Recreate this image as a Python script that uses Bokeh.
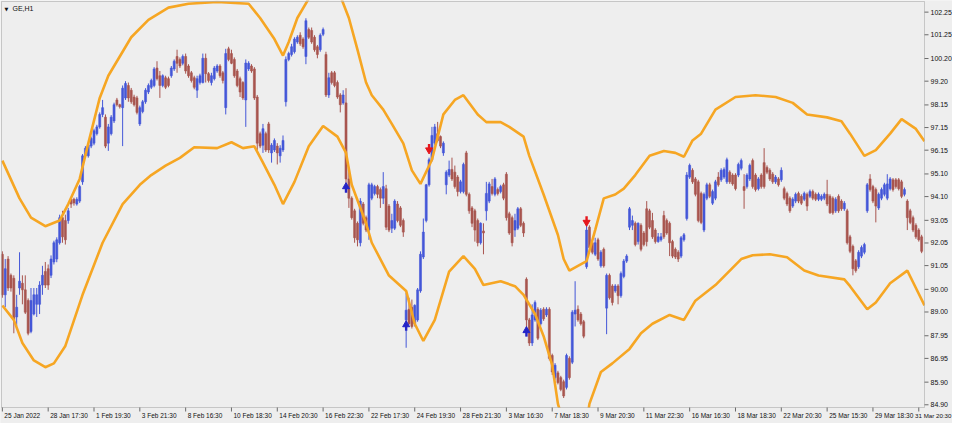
import numpy as np
from bokeh.plotting import figure
from bokeh.models import ColumnDataSource, Range1d, Label, BoxAnnotation, Grid
from bokeh.embed import file_html
from bokeh.resources import INLINE
from bokeh.core.properties import value

# ---------------- data ----------------
chart_title = "GE,H1"

price_ticks = [102.25, 101.25, 100.20, 99.20, 98.15, 97.15, 96.15, 95.10, 94.10,
               93.05, 92.05, 91.05, 90.00, 89.00, 87.95, 86.95, 85.90, 84.90]

time_tick_bars = [0, 16, 32, 48, 64, 80, 96, 112, 128, 144, 160,
                  176, 192, 208, 224, 240, 256, 272, 288, 304, 320]
time_tick_labels = ["25 Jan 2022", "28 Jan 17:30", "1 Feb 19:30", "3 Feb 21:30",
                    "8 Feb 16:30", "10 Feb 18:30", "14 Feb 20:30", "16 Feb 22:30",
                    "22 Feb 17:30", "24 Feb 19:30", "28 Feb 21:30", "3 Mar 16:30",
                    "7 Mar 18:30", "9 Mar 20:30", "11 Mar 22:30", "16 Mar 16:30",
                    "18 Mar 18:30", "22 Mar 20:30", "25 Mar 15:30", "29 Mar 18:30",
                    "31 Mar 20:30"]

opens = [
    91.55, 89.76, 91.34, 90.62, 90.49, 88.78, 90.06, 90.27, 89.98, 89.51,
    88.14, 88.91, 89.34, 89.34, 90.19, 90.79, 90.91, 90.62, 91.21, 91.34,
    92.06, 93.17, 93.04, 93.04, 93.98, 93.98, 93.77, 93.90, 94.75, 95.90,
    95.90, 96.33, 96.46, 96.88, 97.18, 97.73, 97.61, 96.46, 96.88, 97.44,
    98.37, 98.16, 98.03, 98.46, 99.01, 98.80, 98.50, 98.46, 97.31, 97.86,
    98.29, 98.72, 98.93, 99.01, 99.78, 99.44, 99.01, 99.35, 99.31, 99.44,
    99.74, 100.29, 100.16, 99.99,
    100.29, 99.87, 99.57, 99.35, 98.80, 99.14, 99.14, 100.21, 99.53, 99.14,
    99.31, 99.65, 99.87, 99.57, 98.03, 100.63, 100.42, 100.16, 99.65, 99.31,
    99.14, 98.37, 99.74, 99.87, 99.74, 98.50, 96.88, 96.37, 96.88, 97.31,
    96.03, 96.16, 96.33, 95.90, 96.16,
    98.29, 100.16, 100.38, 100.50, 100.93, 101.23, 101.06, 100.29, 101.48, 101.44,
    101.14, 100.72, 100.59, 101.27,
    100.38, 98.59, 99.57, 99.57, 99.14, 98.59, 98.24, 98.24, 94.88, 94.03,
    93.47, 92.92, 92.06, 93.77, 93.17, 92.62, 94.03,
    94.24, 94.54, 94.41, 94.03, 94.45, 93.68, 92.70, 92.70, 93.77, 93.60, 93.04,
    88.65, 89.12, 89.21, 88.48, 88.65, 89.93, 91.43, 93.04, 94.62, 95.73,
    96.46, 96.88, 96.75, 96.03,
    94.62, 95.05, 95.30, 95.18, 94.96, 94.32, 94.32, 96.03, 94.20, 93.60,
    93.47, 93.04, 92.06, 92.58, 93.47, 93.90, 94.54, 94.20, 94.41, 94.32,
    94.62, 95.09, 93.34, 93.17, 92.62, 92.70, 93.56, 92.92,
    90.45, 88.65, 87.63, 88.65, 89.12, 88.48, 89.12, 88.87, 89.12, 87.08,
    86.10, 86.31, 86.10, 85.92, 85.67, 86.95, 86.78, 88.91, 89.12, 88.91, 88.57,
    91.00, 92.75, 92.06, 91.55, 92.19, 91.04, 91.77,
    89.17, 90.62, 90.15, 89.93, 90.15, 89.72, 90.57, 91.25,
    92.75, 92.83, 92.92, 92.11, 92.83, 92.49, 93.56, 93.47, 93.04, 92.62,
    92.11, 92.19, 93.26, 93.04, 92.92, 92.11, 91.77, 91.64, 91.47, 92.19,
    93.13, 94.96, 95.26, 94.88, 94.75, 94.24, 92.62, 94.03, 94.62, 93.81,
    94.03, 94.96, 94.84, 94.96, 94.75, 95.18, 95.05, 95.05, 95.05, 95.35,
    94.54, 94.54, 94.88, 95.69, 95.05, 94.45, 95.05, 95.60, 95.39, 95.26,
    95.09, 94.75, 94.88, 94.84, 94.45, 94.24, 94.03, 93.68, 93.90, 94.24,
    94.11, 93.98, 94.20, 94.11, 94.32, 94.20, 93.98, 93.98, 94.03, 94.20,
    94.11, 94.03, 93.47, 94.11, 93.90, 93.56, 93.47, 92.32, 91.90, 91.26,
    91.00, 91.47, 91.64,
    93.47, 94.88, 94.54, 94.41, 93.60, 94.03, 94.20, 94.03, 94.45, 94.84,
    94.84, 94.84, 94.75, 94.20,
    93.90, 93.47, 93.17, 92.83, 92.62, 92.32,
]

highs = [
    91.68, 91.34, 91.47, 90.70, 90.62, 89.76, 91.64, 90.62, 90.62, 89.60,
    90.06, 90.06, 90.06, 90.36, 91.04, 91.21, 91.10, 91.50, 92.15, 92.30,
    93.30, 93.47, 93.30, 93.60, 94.03, 94.05, 94.07, 94.62, 95.98, 96.33,
    96.45, 96.75, 97.10, 97.27, 97.82, 98.37, 97.73, 97.31, 97.70, 98.25,
    98.46, 98.20, 99.01, 99.20, 99.14, 98.90, 98.60, 98.55, 98.12, 98.37,
    98.89, 99.10, 99.31, 99.82, 100.08, 99.65, 99.50, 99.44, 99.40, 99.87,
    100.16, 100.59, 100.25, 100.38,
    100.42, 99.95, 99.65, 99.44, 99.44, 99.53, 100.42, 100.42, 99.60, 99.57,
    99.87, 99.95, 99.95, 99.65, 100.63, 100.72, 100.59, 100.25, 99.74, 99.40,
    99.20, 100.16, 100.08, 99.95, 99.82, 98.59, 96.97, 97.31, 96.97, 97.40,
    96.46, 96.67, 96.46, 96.37, 96.80,
    100.29, 100.50, 100.85, 101.14, 101.23, 101.36, 101.14, 101.98, 101.57, 101.57,
    101.23, 100.80, 101.31, 101.57,
    100.50, 99.57, 99.65, 99.65, 99.23, 98.67, 98.80, 98.89, 95.18, 94.11,
    93.56, 93.00, 94.03, 93.86, 93.26, 94.71, 94.71,
    94.62, 94.62, 94.50, 95.18, 94.62, 93.77, 93.34, 93.98, 93.90, 93.68, 93.13,
    89.85, 89.63, 89.55, 89.34, 90.06, 91.68, 93.13, 94.66, 95.82, 97.18,
    97.31, 97.40, 96.80, 96.54,
    95.26, 95.69, 95.82, 95.47, 95.05, 94.84, 95.60, 96.12, 94.28, 93.68,
    93.56, 93.13, 92.96, 92.92, 94.75, 94.75, 94.88, 94.96, 94.50, 94.62,
    94.71, 95.18, 93.43, 93.26, 93.34, 93.64, 93.64, 93.00,
    90.53, 88.74, 89.34, 89.51, 89.21, 89.17, 89.21, 89.21, 89.21, 87.16,
    86.74, 86.40, 86.18, 86.01, 87.16, 87.04, 89.08, 90.36, 89.29, 89.00, 88.65,
    92.96, 92.83, 92.15, 92.28, 92.28, 91.73, 91.85,
    90.70, 90.70, 90.23, 90.23, 90.23, 90.79, 91.34, 91.55,
    93.64, 93.26, 93.00, 92.96, 92.92, 92.58, 93.90, 93.56, 93.38, 92.70,
    92.49, 92.49, 93.47, 93.13, 93.00, 92.19, 91.85, 91.73, 92.36, 92.49,
    95.18, 95.56, 95.35, 94.96, 94.84, 94.32, 94.28, 94.71, 94.71, 94.41,
    94.84, 95.18, 95.35, 95.39, 95.82, 95.26, 95.13, 95.13, 95.60, 95.78,
    95.09, 95.13, 95.56, 95.78, 95.13, 94.96, 95.13, 96.24, 95.48, 95.35,
    95.18, 95.05, 94.96, 95.39, 94.54, 94.32, 94.11, 94.07, 94.28, 94.32,
    94.20, 94.32, 94.28, 94.41, 94.41, 94.28, 94.28, 94.20, 94.28, 94.84,
    94.20, 94.11, 94.07, 94.20, 93.98, 93.90, 93.56, 92.41, 91.98, 91.34,
    91.73, 91.94, 92.06,
    94.70, 95.09, 94.62, 94.50, 94.28, 94.50, 94.71, 95.09, 94.96, 94.92,
    94.92, 94.92, 94.84, 94.50,
    93.98, 93.56, 93.26, 92.92, 92.70, 92.41,
]

lows = [
    89.63, 89.21, 89.93, 89.90, 88.06, 88.36, 89.76, 89.34, 88.91, 87.97,
    88.06, 88.85, 88.78, 88.91, 89.76, 90.06, 89.98, 90.50, 91.10, 91.20,
    91.98, 92.06, 91.98, 92.90, 93.60, 93.70, 93.70, 93.82, 94.62, 95.82,
    95.82, 96.24, 96.37, 96.80, 97.10, 97.61, 96.24, 96.12, 96.80, 97.35,
    98.08, 97.99, 96.33, 98.37, 98.29, 98.20, 98.08, 97.73, 97.22, 97.78,
    98.20, 98.63, 98.85, 98.93, 99.23, 98.46, 98.93, 98.85, 98.93, 99.35,
    99.65, 99.57, 99.78, 99.90,
    99.53, 99.35, 99.14, 98.84, 98.46, 99.05, 99.10, 99.14, 99.14, 99.01,
    99.23, 99.57, 99.35, 99.10, 97.73, 100.08, 99.95, 99.35, 98.93, 98.50,
    98.37, 97.18, 99.65, 99.57, 98.37, 96.16, 96.24, 96.03, 96.07, 96.03,
    95.60, 96.07, 95.52, 95.60, 96.07,
    98.08, 100.08, 100.29, 100.42, 100.85, 100.76, 100.63, 99.95, 101.06, 100.85,
    100.50, 100.21, 100.50, 101.19,
    98.50, 98.46, 99.05, 98.93, 98.42, 97.82, 98.16, 94.45, 93.60, 93.08,
    92.06, 91.90, 91.90, 92.83, 92.53, 92.19, 93.94,
    94.15, 94.03, 93.60, 93.77, 92.62, 92.53, 92.49, 92.62, 92.96, 92.75, 92.32,
    87.42, 88.44, 88.27, 88.36, 88.57, 89.85, 91.34, 92.96, 94.54, 95.65,
    96.37, 96.50, 96.24, 95.90,
    94.20, 94.96, 94.79, 94.45, 94.11, 94.24, 94.24, 94.11, 93.34, 92.75,
    92.11, 91.90, 91.98, 91.55, 93.04, 93.81, 94.15, 94.11, 94.15, 94.24,
    93.94, 93.04, 92.41, 91.90, 92.32, 92.62, 92.75, 92.32,
    87.93, 87.50, 87.50, 88.57, 87.76, 88.40, 88.61, 88.78, 86.86, 86.22,
    86.01, 85.80, 85.50, 85.20, 85.58, 86.01, 86.70, 88.36, 88.57, 88.40, 87.84,
    90.91, 91.77, 91.55, 91.47, 91.26, 90.96, 90.96,
    88.02, 89.55, 89.29, 89.85, 89.34, 89.63, 90.49, 91.17,
    92.62, 92.62, 91.90, 91.98, 91.68, 91.90, 91.90, 92.66, 92.23, 92.02,
    92.06, 92.11, 92.23, 92.41, 91.47, 91.38, 91.34, 91.21, 91.38, 92.11,
    93.04, 94.88, 94.66, 94.11, 92.96, 92.88, 92.53, 93.94, 94.03, 93.73,
    93.94, 94.54, 94.75, 94.88, 94.66, 94.66, 94.58, 94.37, 94.96, 95.26,
    93.56, 94.45, 94.79, 94.45, 94.32, 94.37, 94.45, 94.45, 95.09, 94.79,
    94.66, 94.66, 94.54, 94.75, 93.94, 93.68, 93.38, 93.60, 93.81, 93.81,
    93.73, 93.90, 93.47, 94.03, 93.94, 93.90, 93.90, 93.90, 93.94, 93.68,
    93.34, 93.30, 93.38, 93.38, 93.47, 93.47, 91.98, 91.60, 90.62, 90.74,
    90.91, 91.38, 91.55,
    93.38, 94.32, 93.81, 92.96, 93.51, 93.94, 94.11, 93.94, 94.37, 94.32,
    94.45, 94.37, 94.03, 94.11,
    92.62, 92.88, 92.53, 92.23, 92.11, 91.60,
]

closes = [
    89.76, 90.91, 90.06, 90.06, 88.65, 89.21, 90.36, 89.98, 88.99, 88.06,
    89.51, 89.76, 89.76, 90.19, 90.62, 90.19, 90.19, 91.34, 92.06, 92.19,
    93.17, 92.32, 92.19, 93.47, 93.77, 93.82, 93.98, 94.54, 95.90, 96.24,
    96.37, 96.67, 97.01, 97.18, 97.73, 98.03, 96.33, 97.18, 97.61, 98.16,
    98.16, 98.07, 98.89, 99.10, 98.46, 98.29, 98.16, 97.82, 98.03, 98.29,
    98.80, 99.01, 99.23, 99.74, 99.31, 99.01, 99.44, 98.93, 99.01, 99.78,
    100.08, 99.99, 99.87, 100.29,
    99.65, 99.44, 99.23, 98.93, 99.31, 99.44, 100.21, 99.53, 99.23, 99.44,
    99.78, 99.87, 99.44, 99.23, 100.42, 100.16, 99.99, 99.44, 99.01, 98.72,
    98.46, 100.00, 99.99, 99.65, 98.46, 96.46, 96.33, 97.10, 96.16, 96.16,
    96.37, 96.58, 96.03, 96.24, 96.58,
    100.16, 100.42, 100.72, 101.06, 101.14, 100.85, 100.72, 101.87, 101.14, 100.93,
    100.59, 100.38, 101.23, 101.48,
    98.59, 99.35, 99.14, 99.01, 98.50, 98.16, 98.59, 94.88, 94.03, 93.17,
    92.28, 92.19, 93.90, 92.92, 92.62, 94.62, 94.62,
    94.54, 94.20, 94.03, 94.54, 92.75, 92.62, 93.04, 93.90, 93.04, 92.83, 92.53,
    89.08, 88.48, 88.36, 89.29, 89.98, 91.55, 92.53, 94.62, 95.73, 96.80,
    97.18, 96.58, 96.33, 96.46,
    95.18, 95.30, 94.88, 94.54, 94.32, 94.75, 95.52, 94.20, 93.47, 92.92,
    92.62, 92.06, 92.92, 92.49, 94.24, 94.66, 94.24, 94.88, 94.24, 94.54,
    94.03, 93.17, 92.49, 92.06, 93.04, 93.56, 92.83, 92.49,
    88.65, 87.63, 88.87, 89.42, 87.84, 89.08, 88.70, 89.12, 86.95, 86.35,
    86.65, 85.88, 85.58, 85.29, 87.08, 86.10, 88.99, 89.08, 88.65, 88.48, 87.93,
    92.62, 91.85, 91.64, 92.06, 91.34, 91.64, 91.04,
    90.62, 89.63, 89.42, 90.15, 89.72, 90.70, 91.25, 91.47,
    93.56, 93.04, 91.98, 92.92, 91.77, 91.98, 92.11, 92.75, 92.32, 92.11,
    92.32, 92.32, 92.32, 92.49, 92.06, 91.47, 91.43, 91.34, 92.28, 92.41,
    95.05, 95.48, 94.75, 94.20, 93.04, 92.96, 94.20, 94.62, 94.11, 94.32,
    94.75, 94.62, 95.26, 95.30, 95.73, 94.75, 94.66, 94.45, 95.52, 95.69,
    94.37, 95.05, 95.48, 94.54, 94.41, 94.88, 94.54, 94.54, 95.18, 94.88,
    94.75, 94.96, 94.62, 95.26, 94.03, 93.77, 93.47, 93.98, 94.20, 93.90,
    93.81, 94.24, 93.68, 94.32, 94.03, 93.98, 94.20, 94.11, 94.20, 93.77,
    93.38, 93.38, 93.98, 93.47, 93.56, 93.81, 92.06, 91.68, 90.91, 90.83,
    91.64, 91.85, 91.98,
    94.62, 94.41, 93.90, 93.68, 94.20, 94.41, 94.62, 94.66, 94.88, 94.41,
    94.54, 94.45, 94.11, 94.41,
    93.17, 92.96, 92.62, 92.32, 92.19, 91.68,
]

# envelope bands (bar index, price)
upper_bar = [0, 6, 10, 15, 20, 23, 27, 30, 34, 37, 41, 45, 51, 58, 65, 75, 86, 90,
             95, 98, 100, 103, 107, 112, 117, 121, 124, 127, 129, 133, 136, 140,
             143, 146, 150, 154, 158, 161, 166, 169, 174, 177, 182, 184, 189, 194,
             196, 198, 201, 204, 207, 210, 214, 217, 221, 226, 231, 235, 238, 241,
             244, 249, 256, 263, 270, 276, 281, 288, 293, 296, 301, 305, 310, 314,
             319, 322]
upper_price = [95.69, 94.02, 93.17, 92.79, 93.04, 93.77, 94.88, 96.45, 98.46, 99.44,
               100.29, 101.14, 101.91, 102.45, 102.62, 102.70, 102.62, 101.99, 101.06,
               100.33, 100.93, 101.99, 102.85, 104.10, 103.30, 101.99, 100.59, 99.14,
               98.58, 97.94, 97.31, 96.45, 95.26, 94.66, 95.73, 97.73, 98.37, 98.58,
               97.73, 97.39, 97.39, 97.18, 96.75, 95.90, 94.19, 92.40, 91.34, 90.83,
               91.04, 91.25, 92.62, 94.02, 94.19, 94.45, 95.05, 95.90, 96.11, 96.03,
               95.86, 96.58, 96.88, 97.94, 98.50, 98.58, 98.50, 98.24, 97.73, 97.60,
               97.43, 96.88, 95.90, 96.15, 96.88, 97.52, 97.09, 96.54]
lower_bar = [0, 4, 7, 11, 15, 18, 22, 28, 35, 42, 48, 52, 57, 62, 67, 75, 80, 84,
             88, 91, 95, 98, 102, 107, 112, 117, 120, 122, 127, 129, 135, 141, 144,
             147, 151, 156, 161, 165, 168, 174, 179, 182, 186, 189, 192, 194, 197,
             201, 204, 205, 209, 213, 219, 223, 227, 233, 238, 242, 249, 258, 262,
             268, 274, 280, 285, 294, 296, 302, 305, 310, 316, 319, 322]
lower_price = [89.29, 88.65, 87.63, 86.86, 86.56, 86.73, 87.50, 89.76, 92.06, 93.77,
               94.62, 95.05, 95.47, 95.81, 96.28, 96.24, 96.50, 96.24, 96.32, 95.60,
               94.62, 93.77, 94.75, 96.32, 97.22, 96.75, 96.03, 94.62, 92.92, 92.06,
               90.61, 89.93, 88.48, 87.72, 88.65, 90.78, 91.47, 90.91, 90.19, 90.36,
               90.14, 89.76, 88.91, 87.93, 86.65, 84.94, 83.67, 83.24, 84.09, 84.94,
               86.35, 86.73, 87.37, 88.06, 88.48, 88.87, 88.65, 89.50, 90.19, 91.34,
               91.51, 91.55, 91.42, 90.83, 90.61, 90.44, 90.14, 89.12, 89.42, 90.27,
               90.83, 90.06, 89.29]

# signal arrows: tip of each arrow (bar index, price)
buy_bar = [120, 141, 183]
buy_price = [94.67, 88.57, 88.31]
sell_bar = [149, 204]
sell_price = [96.03, 92.83]

# ---------------- layout & style ----------------
W, H = 952, 423                  # canvas; the whole canvas is the plot frame
CL, CT = 1, 1                    # chart box left / top (px)
CR, CB = W - 28, H - 16          # chart box right / bottom (px)
X0, X1 = -0.3, 322.0             # bar range shown in the chart box
Y0, Y1 = 84.78, 102.72           # price range shown in the chart box
dx = (X1 - X0) / (CR - CL)
dy = (Y1 - Y0) / (CB - CT)

BG = "#eeeeee"
FRAME = "#6a6a6a"
TXT = "#111111"
FONT = "Liberation Sans"
UP = "#4457d8"
DOWN = "#a8554f"
BAND = "#f6a623"
BUY = "#2424c8"
SELL = "#e5161c"

p = figure(width=W, height=H, output_backend="svg", toolbar_location=None, title=None,
           x_range=Range1d(X0 - CL * dx, X0 + (W - CL) * dx),
           y_range=Range1d(Y0 - (H - CB) * dy, Y1 + CT * dy),
           x_axis_location=None, y_axis_location=None,
           min_border_left=0, min_border_right=0, min_border_top=0, min_border_bottom=0)
p.center = [r for r in p.center if not isinstance(r, Grid)]
p.background_fill_color = BG
p.border_fill_color = BG
p.outline_line_color = None

# candles
o = np.array(opens); h = np.array(highs); l = np.array(lows); c = np.array(closes)
bars = np.arange(len(o))
up = c >= o
for mask, col in ((up, UP), (~up, DOWN)):
    src = ColumnDataSource(dict(x=bars[mask], hi=h[mask], lo=l[mask],
                                top=np.maximum(o, c)[mask], bot=np.minimum(o, c)[mask]))
    p.segment(x0="x", y0="lo", x1="x", y1="hi", source=src, line_color=col, line_width=1)
    p.vbar(x="x", width=0.7, top="top", bottom="bot", source=src,
           fill_color=col, line_color=col, line_width=0.6)

# bands
p.line(upper_bar, upper_price, line_color=BAND, line_width=2.6)
p.line(lower_bar, lower_price, line_color=BAND, line_width=2.6)

# signal arrows
bp = np.array(buy_price); sp = np.array(sell_price)
p.segment(x0=buy_bar, y0=bp - 4 * dy, x1=buy_bar, y1=bp - 9 * dy,
          line_color=BUY, line_width=2.4)
p.scatter(buy_bar, bp - 3 * dy, marker="triangle", size=7, fill_color=BUY, line_color=BUY)
p.segment(x0=sell_bar, y0=sp + 4 * dy, x1=sell_bar, y1=sp + 9 * dy,
          line_color=SELL, line_width=2.4)
p.scatter(sell_bar, sp + 3 * dy, marker="inverted_triangle", size=7,
          fill_color=SELL, line_color=SELL)

# masks outside the chart box, then its border
for kw in (dict(right=X0), dict(left=X1), dict(bottom=Y1), dict(top=Y0)):
    p.add_layout(BoxAnnotation(fill_color=BG, fill_alpha=1, line_color=None, **kw))
p.add_layout(BoxAnnotation(left=X0, right=X1, bottom=Y0, top=Y1, fill_alpha=0,
                           line_color=FRAME, line_width=1))

# price scale (right)
p.segment(x0=[X1] * len(price_ticks), y0=price_ticks,
          x1=[X1 + 4 * dx] * len(price_ticks), y1=price_ticks,
          line_color=FRAME, line_width=1, level="overlay")
p.text(x=[X1 + 6 * dx] * len(price_ticks), y=price_ticks,
       text=["%.2f" % t for t in price_ticks], text_align="left",
       text_baseline="middle", text_font=value(FONT), text_font_size=value("7px"),
       text_color=TXT, level="overlay")

# time scale (bottom): labels start just right of their tick, as in the terminal
p.segment(x0=time_tick_bars, y0=[Y0] * len(time_tick_bars),
          x1=time_tick_bars, y1=[Y0 - 4 * dy] * len(time_tick_bars),
          line_color=FRAME, line_width=1, level="overlay")
p.text(x=time_tick_bars[:-1], y=[Y0 - 4 * dy] * (len(time_tick_bars) - 1),
       text=time_tick_labels[:-1], x_offset=2, text_align="left", text_baseline="top",
       text_font=value(FONT), text_font_size=value("6.5px"), text_color=TXT,
       level="overlay")
# last label would run past the canvas edge: end it at the edge instead
p.text(x=[X0 + (W - 1 - CL) * dx], y=[Y0 - 4 * dy], text=time_tick_labels[-1:],
       text_align="right", text_baseline="top",
       text_font=value(FONT), text_font_size=value("6.2px"), text_color=TXT,
       level="overlay")

# symbol caption
p.add_layout(Label(x=4, y=H - 5, x_units="screen", y_units="screen", text="\u25BC",
                   text_font="DejaVu Sans", text_font_size="5px", text_color=TXT,
                   text_baseline="top"))
p.add_layout(Label(x=12, y=H - 4, x_units="screen", y_units="screen", text=chart_title,
                   text_font=FONT, text_font_size="7px", text_color=TXT,
                   text_baseline="top"))

open("out.html", "w").write(file_html(p, INLINE))
